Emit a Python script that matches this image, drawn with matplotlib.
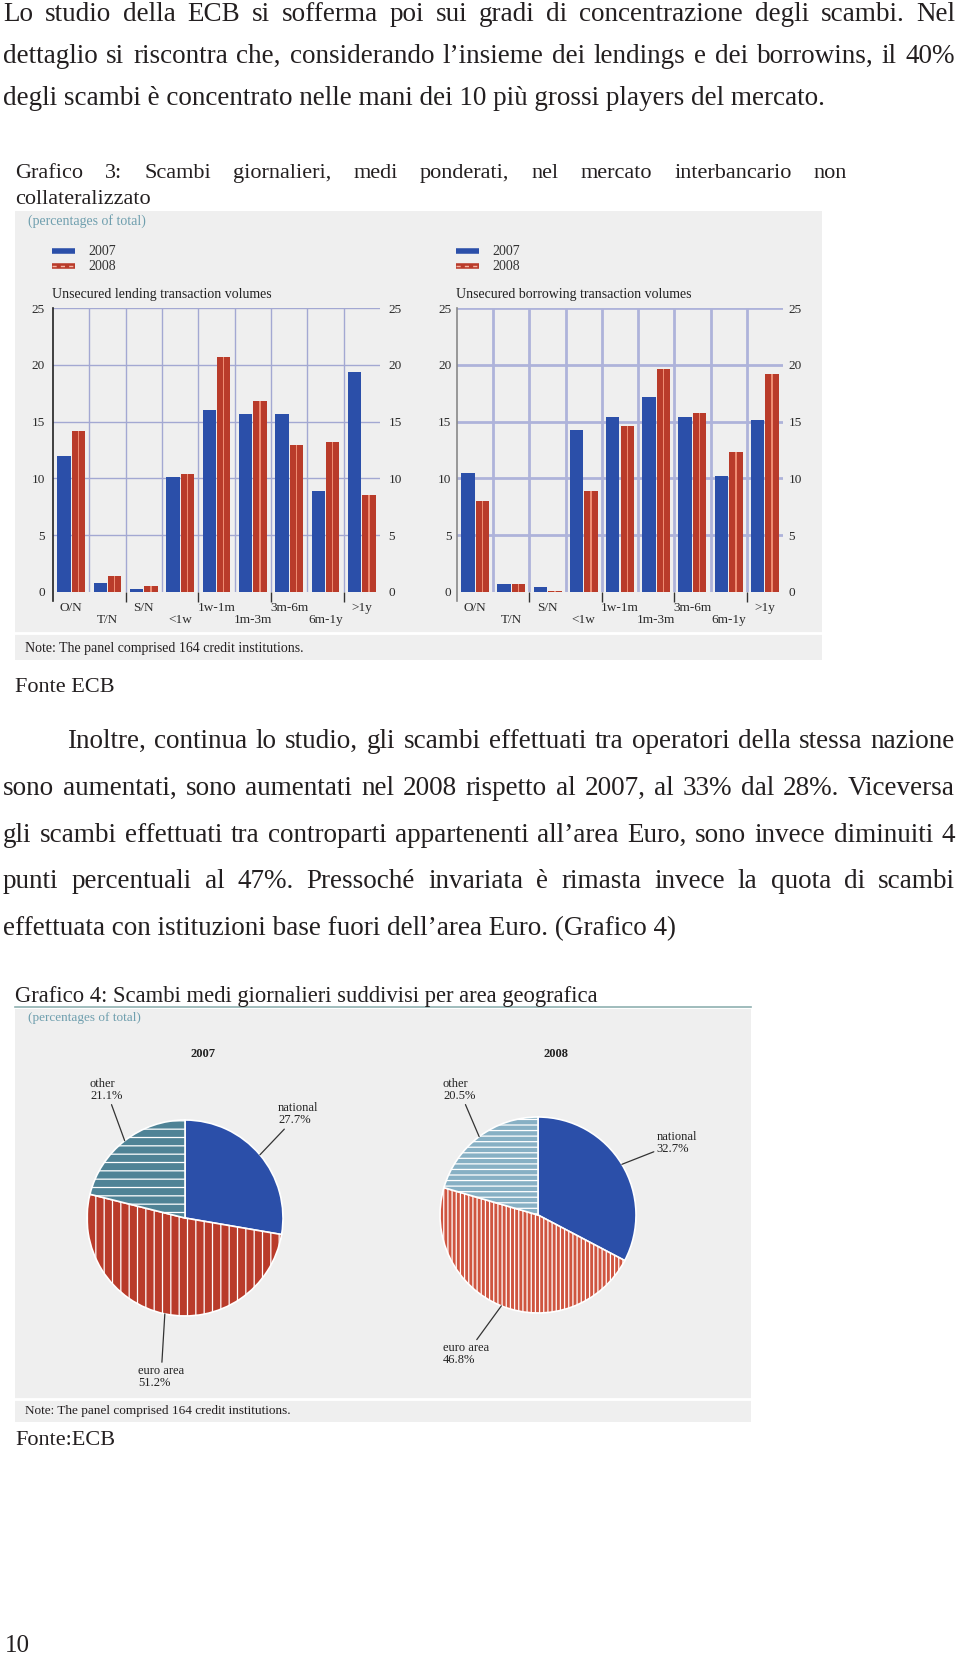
import numpy as np
import matplotlib.pyplot as plt
from matplotlib.patches import Rectangle
from matplotlib.lines import Line2D

W, H = 960, 1655
plt.rcParams['font.family'] = ['Liberation Serif', 'DejaVu Serif']
plt.rcParams['hatch.linewidth'] = 0.9

# ---- data ----
maturities = ['O/N', 'T/N', 'S/N', '<1w', '1w-1m', '1m-3m', '3m-6m', '6m-1y', '>1y']
lending_2007 = [12.0, 0.8, 0.3, 10.1, 16.0, 15.7, 15.7, 8.9, 19.4]
lending_2008 = [14.2, 1.4, 0.5, 10.4, 20.7, 16.8, 12.9, 13.2, 8.5]
borrowing_2007 = [10.5, 0.7, 0.4, 14.3, 15.4, 17.2, 15.4, 10.2, 15.1]
borrowing_2008 = [8.0, 0.7, 0.1, 8.9, 14.6, 19.6, 15.8, 12.3, 19.2]
y_ticks = [0, 5, 10, 15, 20, 25]

areas = ['national', 'euro area', 'other']
share_2007 = [27.7, 51.2, 21.1]
share_2008 = [32.7, 46.8, 20.5]

BLUE = '#2b4fa9'
RED = '#b93b2a'
GRID = '#a3a8d2'
PANEL = '#efefef'
INK = '#231f20'
TEAL = '#6f9fae'

fig = plt.figure(figsize=(W / 100, H / 100), dpi=100)
fig.patch.set_facecolor('white')
renderer = fig.canvas.get_renderer()


def fx(x):
    return x / W


def fy(y):
    return 1 - y / H


def txt(x, y, s, size, **kw):
    kw.setdefault('color', INK)
    kw.setdefault('va', 'baseline')
    return fig.text(fx(x), fy(y), s, fontsize=size, **kw)


def justify(line, x0, x1, y, size):
    words = line.split()
    ts = [txt(0, y, w, size) for w in words]
    ws = [t.get_window_extent(renderer).width for t in ts]
    gap = (x1 - x0 - sum(ws)) / (len(words) - 1)
    x = x0
    for t, w in zip(ts, ws):
        t.set_x(fx(x))
        x += w + gap


def rect(x0, y0, x1, y1, color):
    fig.patches.append(Rectangle((fx(x0), fy(y1)), (x1 - x0) / W, (y1 - y0) / H,
                                 transform=fig.transFigure, facecolor=color,
                                 edgecolor='none', zorder=-2))


def line(x0, y0, x1, y1, **kw):
    kw.setdefault('zorder', 1)
    fig.add_artist(Line2D([fx(x0), fx(x1)], [fy(y0), fy(y1)], transform=fig.transFigure, **kw))


def axes_px(x0, y0, x1, y1):
    return fig.add_axes([fx(x0), fy(y1), (x1 - x0) / W, (y1 - y0) / H])


# ---- body text ----
BODY = 19.5
justify('Lo studio della ECB si sofferma poi sui gradi di concentrazione degli scambi. Nel', 3, 955, 21, BODY)
justify('dettaglio si riscontra che, considerando l’insieme dei lendings e dei borrowins, il 40%', 3, 955, 63, BODY)
txt(3, 105, 'degli scambi è concentrato nelle mani dei 10 più grossi players del mercato.', BODY)

justify('Grafico 3: Scambi giornalieri, medi ponderati, nel mercato interbancario non', 15, 847, 178, 16)
txt(15, 204, 'collateralizzato', 16)

# ---- bar chart panel ----
rect(15, 211, 822, 660, PANEL)
line(15, 633, 822, 633, color='white', lw=2)
txt(28, 225, '(percentages of total)', 10, color=TEAL)
txt(25, 652, 'Note: The panel comprised 164 credit institutions.', 10)


def bar_panel(x0, x1, v07, v08, title, pads, grid_c, grid_w):
    ax = axes_px(x0, 308, x1, 592)
    ax.set_facecolor('none')
    idx = np.arange(len(maturities))
    ax.bar(idx - 0.2, v07, 0.37, color=BLUE, zorder=3)
    ax.bar(idx + 0.2, v08, 0.37, color=RED, zorder=3)
    ax.bar(idx + 0.2, v08, 0.04, color='#ee8c72', zorder=4)
    ax.set_xlim(-0.5, 8.5)
    ax.set_ylim(0, 25)
    for b in np.arange(0.5, 8, 1):
        ax.axvline(b, color=grid_c, lw=grid_w, zorder=1)
    for t in y_ticks[1:]:
        ax.axhline(t, color=grid_c, lw=grid_w, zorder=1)
    for s in ['top', 'right', 'bottom']:
        ax.spines[s].set_visible(False)
    ax.spines['left'].set_color('#222222')
    ax.spines['left'].set_linewidth(1.2)
    ax.spines['left'].set_bounds(-0.8, 25)
    ax.set_yticks(y_ticks)
    ax.tick_params(axis='y', length=0, labelsize=9.5, labelleft=True, labelright=True,
                   pad=pads, labelcolor='#2a2a2a')
    ax.set_xticks(idx)
    ax.set_xticklabels([m if i % 2 == 0 else '\n' + m for i, m in enumerate(maturities)],
                       fontsize=9.5, color='#2a2a2a', linespacing=1.0)
    ax.tick_params(axis='x', length=0, pad=7)
    ax.set_xticks([1.5, 3.5, 5.5, 7.5], minor=True)
    ax.tick_params(axis='x', which='minor', length=7, width=1, color='#333333', direction='out')
    fig.text(fx(x0 - 1), fy(298), title, fontsize=10, color='#222222', va='baseline')
    # legend
    line(x0 - 1, 251, x0 + 22, 251, color=BLUE, lw=4, solid_capstyle='butt')
    line(x0 - 1, 266, x0 + 22, 266, color=RED, lw=4, solid_capstyle='butt')
    line(x0 - 1, 266, x0 + 22, 266, color='#f6b5a5', lw=1, ls=(0, (3, 3)), zorder=2)
    txt(x0 + 35, 255, '2007', 10, color='#333333')
    txt(x0 + 35, 270, '2008', 10, color='#333333')
    return ax


bar_panel(53, 380, lending_2007, lending_2008, 'Unsecured lending transaction volumes', 6,
          GRID, 1.0)
axr = bar_panel(457, 783, borrowing_2007, borrowing_2008, 'Unsecured borrowing transaction volumes', 4,
                '#aeb3da', 2.0)
axr.spines['left'].set_color('#888888')

txt(15, 692, 'Fonte ECB', 16)

# ---- second paragraph ----
justify('Inoltre, continua lo studio, gli scambi effettuati tra operatori della stessa nazione', 67, 955, 748, BODY)
justify('sono aumentati, sono aumentati nel 2008 rispetto al 2007, al 33% dal 28%. Viceversa', 3, 955, 795, BODY)
justify('gli scambi effettuati tra controparti appartenenti all’area Euro, sono invece diminuiti 4', 3, 955, 842, BODY)
justify('punti percentuali al 47%. Pressoché invariata è rimasta invece la quota di scambi', 3, 955, 888, BODY)
txt(3, 935, 'effettuata con istituzioni base fuori dell’area Euro. (Grafico 4)', BODY)

txt(15, 1002, 'Grafico 4: Scambi medi giornalieri suddivisi per area geografica', 16.3)
line(15, 1007, 751, 1007, color='#8fb0b0', lw=1.2)

# ---- pie panel ----
rect(15, 1009, 751, 1422, PANEL)
line(15, 1399, 751, 1399, color='white', lw=2)
txt(28, 1021, '(percentages of total)', 9.5, color=TEAL)
txt(25, 1414, 'Note: The panel comprised 164 credit institutions.', 9.5)


def pie_panel(cx, cy, r, shares, colors, hatches, year, label_xy):
    ax = axes_px(cx - r, cy - r, cx + r, cy + r)
    wedges, _ = ax.pie(shares, colors=colors, startangle=90, counterclock=False, radius=1,
                       wedgeprops=dict(edgecolor='white', linewidth=1.2))
    for w, h in zip(wedges, hatches):
        w.set_hatch(h)
        w.set_clip_on(False)
    ax.set_xlim(-1, 1)
    ax.set_ylim(-1, 1)
    ax.set_aspect('equal')
    for w, name, val, (lx, ly) in zip(wedges, areas, shares, label_xy):
        ang = np.deg2rad((w.theta1 + w.theta2) / 2)
        ax.annotate(f'{name}\n{val:.1f}%', xy=(np.cos(ang), np.sin(ang)), xytext=(lx, ly),
                    ha='left', va='top', fontsize=9, color='#222222', linespacing=1.0,
                    arrowprops=dict(arrowstyle='-', color='#333333', lw=0.9,
                                    shrinkA=0, shrinkB=0))
    fig.text(fx(cx + 18), fy(1057), year, fontsize=9, fontweight='bold', color='#222222',
             ha='center', va='baseline')


pie_panel(185, 1218, 98, share_2007, [BLUE, RED, '#4f8396'], ['', '||', '--'], '2007',
          [(0.95, 1.18), (-0.48, -1.50), (-0.97, 1.43)])
pie_panel(538, 1215, 98, share_2008, [BLUE, '#cf5540', '#87b0c4'], ['', '||||', '---'], '2008',
          [(1.21, 0.86), (-0.97, -1.30), (-0.97, 1.40)])

txt(15, 1445, 'Fonte:ECB', 16)
txt(5, 1652, '10', 18)

fig.savefig('out.png', dpi=100)
